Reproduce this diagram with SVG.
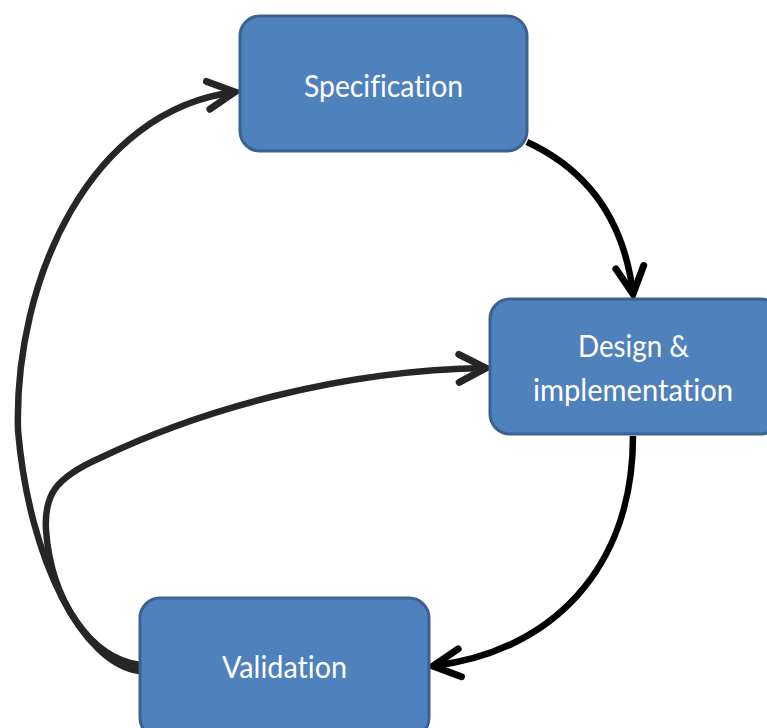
<svg xmlns="http://www.w3.org/2000/svg" width="767" height="728" viewBox="0 0 767 728">
  <defs>
    <style>
      .box { fill: #4f81bd; stroke: #3b6190; stroke-width: 3; }
      .label { fill: #ffffff; font-family: Lato, "Liberation Sans", sans-serif; font-size: 31px; text-anchor: middle; font-variant-ligatures: none; }
      .link { fill: none; stroke-width: 6.5; stroke-linecap: butt; }
      .dark { stroke: #262626; }
      .black { stroke: #000000; }
    </style>
    <marker id="chevDark" markerUnits="userSpaceOnUse" markerWidth="1" markerHeight="1" refX="0" refY="0" orient="auto" overflow="visible">
      <path d="M-27,-14 L0,0 L-27,14" fill="none" stroke="#262626" stroke-width="7" stroke-linecap="round" stroke-linejoin="miter"/>
    </marker>
    <marker id="chevBlack" markerUnits="userSpaceOnUse" markerWidth="1" markerHeight="1" refX="0" refY="0" orient="auto" overflow="visible">
      <path d="M-27,-14 L0,0 L-27,14" fill="none" stroke="#000000" stroke-width="7" stroke-linecap="round" stroke-linejoin="miter"/>
    </marker>
  </defs>

  <g id="connectors">
    <!-- Specification to Design & implementation -->
    <path class="link black" d="M527,142 Q620,185 633,294" marker-end="url(#chevBlack)"/>
    <!-- Design & implementation to Validation -->
    <path class="link black" d="M633,436 C633,570 550,652 433,666" marker-end="url(#chevBlack)"/>
    <!-- Validation back to Specification -->
    <path class="link dark" d="M140,671 C84,665 29,562 18,430 C14,280 90,110 235,92" marker-end="url(#chevDark)"/>
    <!-- Validation back to Design & implementation -->
    <path class="link dark" d="M140,665 C90,658 51,600 46,530 C44,495 55,478 100,458 C200,410 340,370 486,368" marker-end="url(#chevDark)"/>
  </g>

  <g id="spec">
    <rect class="box" x="240" y="16" width="287" height="135" rx="20"/>
    <text class="label" x="383.5" y="97" textLength="159" lengthAdjust="spacingAndGlyphs">Specification</text>
  </g>

  <g id="design">
    <rect class="box" x="490" y="299" width="290" height="135" rx="20"/>
    <text class="label" x="633.5" y="357" textLength="111" lengthAdjust="spacingAndGlyphs">Design &amp;</text>
    <text class="label" x="633" y="401" textLength="200" lengthAdjust="spacingAndGlyphs">implementation</text>
  </g>

  <g id="validation">
    <rect class="box" x="140" y="598" width="289" height="140" rx="20"/>
    <text class="label" x="284.5" y="678" textLength="125" lengthAdjust="spacingAndGlyphs">Validation</text>
  </g>
</svg>
